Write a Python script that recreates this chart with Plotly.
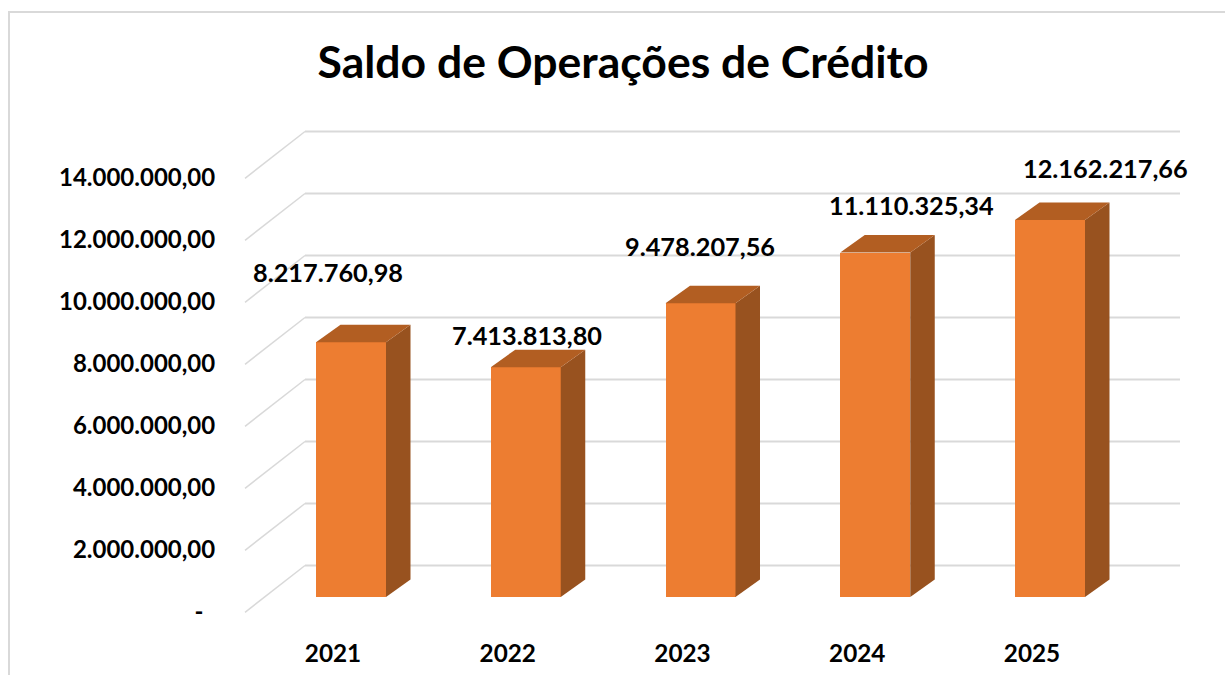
import plotly.graph_objects as go

# ---- data ----
years = ["2021", "2022", "2023", "2024", "2025"]
values = [8217760.98, 7413813.80, 9478207.56, 11110325.34, 12162217.66]
value_labels = ["8.217.760,98", "7.413.813,80", "9.478.207,56", "11.110.325,34", "12.162.217,66"]
axis_values = [0, 2000000, 4000000, 6000000, 8000000, 10000000, 12000000, 14000000]
axis_labels = ["-\u00a0\u00a0", "2.000.000,00", "4.000.000,00", "6.000.000,00",
               "8.000.000,00", "10.000.000,00", "12.000.000,00", "14.000.000,00"]
title_text = "Saldo de Operações de Crédito"

# ---- layout geometry (px) ----
W, H = 1225, 675
L, R, T, B = 235, 25, 100, 53
plot_w, plot_h = W - L - R, H - T - B
PX_PER_CAT = 174.75
PX_PER_VAL = 31.0e-6
X0_PX, Y0_PX = 351, 597          # pixel of the first category / of value 0

def dx(px):
    return px / PX_PER_CAT

def dy(px):
    return px / PX_PER_VAL

xr = [-dx(X0_PX - L), dx(W - R - X0_PX)]
yr = [-dy(T + plot_h - Y0_PX), dy(Y0_PX - T)]

BAR_W = dx(70)
BAR_DX, BAR_DY = dx(24.5), dy(17.5)
WALL_LEFT = -dx(X0_PX - 245)
WALL_BACK = -dx(X0_PX - 305)
WALL_RIGHT = dx(1180 - X0_PX)
FRONT_SHIFT, BACK_SHIFT = -dy(15.3), dy(31.5)
TICK_SHIFT_Y = -dy(15)
TICK_SHIFT_X = -dx(18)

FONT = "Lato, 'Open Sans', sans-serif"
FRONT, SIDE, TOP = "#ED7D31", "#98521F", "#B25E22"
GRID = "#D9D9D9"
xs = list(range(len(years)))

fig = go.Figure()
fig.add_trace(go.Bar(x=xs, y=values, width=BAR_W, marker=dict(color=FRONT, line=dict(width=0)),
                     showlegend=False, hoverinfo="skip"))

# side faces and top faces of the bars, from the values
for x, v in zip(xs, values):
    r = x + BAR_W / 2
    l = x - BAR_W / 2
    fig.add_trace(go.Scatter(x=[r, r + BAR_DX, r + BAR_DX, r, r],
                             y=[0, BAR_DY, v + BAR_DY, v, 0],
                             mode="lines", fill="toself", fillcolor=SIDE,
                             line=dict(width=0), showlegend=False, hoverinfo="skip"))
    fig.add_trace(go.Scatter(x=[l, l + BAR_DX, r + BAR_DX, r, l],
                             y=[v, v + BAR_DY, v + BAR_DY, v, v],
                             mode="lines", fill="toself", fillcolor=TOP,
                             line=dict(width=0), showlegend=False, hoverinfo="skip"))

# floor/back-wall gridlines as below-layer shapes
shapes = []
for v in axis_values:
    shapes.append(dict(type="line", xref="x", yref="y", layer="below",
                       x0=WALL_LEFT, y0=v + FRONT_SHIFT, x1=WALL_BACK, y1=v + BACK_SHIFT,
                       line=dict(color=GRID, width=1.5)))
    shapes.append(dict(type="line", xref="x", yref="y", layer="below",
                       x0=WALL_BACK, y0=v + BACK_SHIFT, x1=WALL_RIGHT, y1=v + BACK_SHIFT,
                       line=dict(color=GRID, width=2)))

# chart frame: left and top edges
px_x = lambda p: (p - L) / plot_w
px_y = lambda p: 1 - (p - T) / plot_h
frame = dict(color="#D9D9D9", width=2)
shapes.append(dict(type="line", xref="paper", yref="paper", x0=px_x(9), x1=px_x(9),
                   y0=px_y(11), y1=px_y(675), line=frame))
shapes.append(dict(type="line", xref="paper", yref="paper", x0=px_x(8), x1=px_x(1225),
                   y0=px_y(12), y1=px_y(12), line=frame))

# data labels: manually placed in the source, offsets in px from each bar's top centre
label_shift_x = [-23, 1, -1, 36, 55]
label_shift_y = [70, 32, 57, 48, 52]
annotations = [dict(x=x, y=v, xref="x", yref="y", text=t, showarrow=False,
                    xshift=sx, yshift=sy, xanchor="center", yanchor="middle",
                    font=dict(family=FONT, size=25.3, color="#000000", weight="bold"))
               for x, v, t, sx, sy in zip(xs, values, value_labels, label_shift_x, label_shift_y)]

fig.update_layout(
    width=W, height=H, autosize=False,
    margin=dict(l=L, r=R, t=T, b=B, autoexpand=False),
    paper_bgcolor="white", plot_bgcolor="white",
    showlegend=False, shapes=shapes, annotations=annotations, bargap=0,
    title=dict(text=title_text, x=623 / W, xanchor="center", y=1 - 62 / H, yanchor="middle",
               font=dict(family=FONT, size=44.5, color="#000000", weight="bold")),
    xaxis=dict(range=xr, tickmode="array", tickvals=[x + TICK_SHIFT_X for x in xs], ticktext=years,
               showgrid=False, automargin=False,
               zeroline=False, showline=False, ticks="outside", ticklen=10, tickcolor="white",
               tickfont=dict(family=FONT, size=24.3, color="#000000", weight="bold")),
    yaxis=dict(range=yr, tickmode="array", tickvals=[v + TICK_SHIFT_Y for v in axis_values],
               ticktext=axis_labels, showgrid=False, zeroline=False, showline=False, automargin=False,
               ticks="outside", ticklen=14, tickcolor="white",
               tickfont=dict(family=FONT, size=24, color="#000000", weight="bold")),
)
fig.write_html("out.html", config=dict(displayModeBar=False),
               post_script="document.body.style.margin='0';document.body.style.overflow='hidden';")
